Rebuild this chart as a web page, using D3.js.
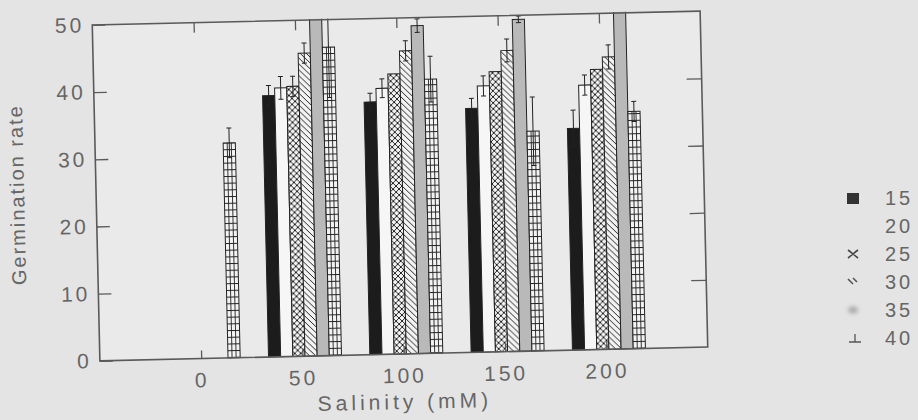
<!DOCTYPE html>
<html>
<head>
<meta charset="utf-8">
<script src="https://cdn.jsdelivr.net/npm/d3@7"></script>
<style>
  html, body { margin: 0; padding: 0; background: #e4e4e4; }
  svg { display: block; font-family: "Liberation Sans", Arial, sans-serif; }
</style>
</head>
<body>
<div id="chart"></div>
<script>
// Germination rate by salinity (mM), one bar per temperature
const salinity = ["0", "50", "100", "150", "200"];
const temperatures = ["15", "20", "25", "30", "35", "40"];

const rate15 = [0, 38.9, 37.6, 36.3, 33.0];
const rate20 = [0, 40.0, 39.6, 39.6, 39.4];
const rate25 = [0, 40.2, 41.7, 41.7, 41.7];
const rate30 = [0, 45.1, 45.1, 44.8, 43.5];
const rate35 = [0, 52.0, 48.8, 49.4, 52.0];
const rate40 = [32.0, 45.9, 40.8, 32.7, 35.3];

const err15 = [0, 1.5, 1.3, 1.5, 2.7];
const err20 = [0, 1.7, 1.4, 1.5, 1.5];
const err25 = [0, 1.5, 0, 0, 0];
const err30 = [0, 1.5, 1.5, 1.7, 1.8];
const err35 = [0, 0, 1.0, 0.5, 0];
const err40 = [2.2, 7.5, 3.4, 5.1, 1.5];

const yTicks = [0, 10, 20, 30, 40, 50];
const yDomain = [0, 50];

const rates = [rate15, rate20, rate25, rate30, rate35, rate40];
const errs = [err15, err20, err25, err30, err35, err40];

const bars = [];
temperatures.forEach((t, i) => {
  salinity.forEach((s, j) => {
    bars.push({ temp: t, sal: s, value: rates[i][j], err: errs[i][j] });
  });
});

const W = 918, H = 420;
const margin = { left: 96, top: 18 };
const width = 608, height = 336;
const textColor = "#666";
const axisColor = "#5a5a5a";
const ink = "#222";

const svg = d3.select("#chart").append("svg")
  .attr("width", W).attr("height", H);

svg.append("rect").attr("width", W).attr("height", H).attr("fill", "#e4e4e4");

const defs = svg.append("defs");

// hatch fills
const pCross = defs.append("pattern").attr("id", "hatch-cross")
  .attr("patternUnits", "userSpaceOnUse").attr("width", 6).attr("height", 6);
pCross.append("rect").attr("width", 6).attr("height", 6).attr("fill", "#f3f3f3");
pCross.append("path").attr("d", "M0,0L6,6M6,0L0,6")
  .attr("stroke", ink).attr("stroke-width", 1).attr("fill", "none");

const pDiag = defs.append("pattern").attr("id", "hatch-diag")
  .attr("patternUnits", "userSpaceOnUse").attr("width", 6).attr("height", 6);
pDiag.append("rect").attr("width", 6).attr("height", 6).attr("fill", "#f3f3f3");
pDiag.append("path").attr("d", "M0,0L6,6M-1,5L1,7M5,-1L7,1")
  .attr("stroke", ink).attr("stroke-width", 1).attr("fill", "none");

const pRows = defs.append("pattern").attr("id", "hatch-rows")
  .attr("patternUnits", "userSpaceOnUse").attr("width", 10).attr("height", 6.7);
pRows.append("rect").attr("width", 10).attr("height", 6.7).attr("fill", "#f3f3f3");
pRows.append("path").attr("d", "M0,0.5H10")
  .attr("stroke", ink).attr("stroke-width", 1).attr("fill", "none");

defs.append("clipPath").attr("id", "plot-clip")
  .append("rect").attr("x", -1).attr("y", -1).attr("width", width + 2).attr("height", height + 2);

const soft = defs.append("filter").attr("id", "soft")
  .attr("x", "-100%").attr("y", "-100%").attr("width", "300%").attr("height", "300%");
soft.append("feGaussianBlur").attr("stdDeviation", 2);

const fills = {
  "15": "#1c1c1c",
  "20": "#f6f6f6",
  "25": "url(#hatch-cross)",
  "30": "url(#hatch-diag)",
  "35": "#b9b9b9",
  "40": "url(#hatch-rows)"
};

// whole figure sits slightly tilted
const fig = svg.append("g")
  .attr("transform", `rotate(-1.3, ${margin.left + width / 2}, ${margin.top + height / 2})`);

const g = fig.append("g").attr("transform", `translate(${margin.left},${margin.top})`);

g.append("rect").attr("width", width).attr("height", height).attr("fill", "#eaeaea");

const x = d3.scalePoint().domain(salinity).range([0, width]).padding(1);
const xInner = d3.scaleBand().domain(temperatures).range([-34, 39]);
const y = d3.scaleLinear().domain(yDomain).range([height, 0]);

const plot = g.append("g").attr("clip-path", "url(#plot-clip)");

const shown = bars.filter(d => d.value > 0);

plot.selectAll("rect.bar").data(shown).join("rect")
  .attr("class", "bar")
  .attr("x", d => x(d.sal) + xInner(d.temp))
  .attr("y", d => y(d.value))
  .attr("width", xInner.bandwidth())
  .attr("height", d => y(0) - y(d.value))
  .attr("fill", d => fills[d.temp])
  .attr("stroke", ink).attr("stroke-width", 1);

// column dividers of the grid-filled bars
const gridBars = shown.filter(d => d.temp === "40");
[1 / 3, 2 / 3].forEach(f => {
  plot.selectAll(null).data(gridBars).join("line")
    .attr("x1", d => x(d.sal) + xInner(d.temp) + xInner.bandwidth() * f)
    .attr("x2", d => x(d.sal) + xInner(d.temp) + xInner.bandwidth() * f)
    .attr("y1", d => y(d.value)).attr("y2", y(0))
    .attr("stroke", ink).attr("stroke-width", 0.9);
});

// error bars
const withErr = shown.filter(d => d.err > 0);
const cap = 2.5;
const eb = plot.selectAll("g.err").data(withErr).join("g").attr("class", "err")
  .attr("stroke", ink).attr("stroke-width", 1);
eb.append("line")
  .attr("x1", d => x(d.sal) + xInner(d.temp) + xInner.bandwidth() / 2)
  .attr("x2", d => x(d.sal) + xInner(d.temp) + xInner.bandwidth() / 2)
  .attr("y1", d => y(d.value - d.err)).attr("y2", d => y(d.value + d.err));
eb.append("line")
  .attr("x1", d => x(d.sal) + xInner(d.temp) + xInner.bandwidth() / 2 - cap)
  .attr("x2", d => x(d.sal) + xInner(d.temp) + xInner.bandwidth() / 2 + cap)
  .attr("y1", d => y(d.value + d.err)).attr("y2", d => y(d.value + d.err));
eb.append("line")
  .attr("x1", d => x(d.sal) + xInner(d.temp) + xInner.bandwidth() / 2 - cap)
  .attr("x2", d => x(d.sal) + xInner(d.temp) + xInner.bandwidth() / 2 + cap)
  .attr("y1", d => y(d.value - d.err)).attr("y2", d => y(d.value - d.err));

// axes with inward ticks
const styleAxis = sel => {
  sel.select(".domain").remove();
  sel.selectAll(".tick line").attr("stroke", axisColor).attr("stroke-width", 1.3);
  sel.selectAll(".tick text")
    .attr("fill", textColor)
    .style("font-size", "21px")
    .style("letter-spacing", "3px");
};

g.append("g")
  .call(d3.axisLeft(y).tickValues(yTicks).tickSize(-13).tickPadding(8).tickFormat(d3.format("d")))
  .call(styleAxis);

g.append("g").attr("transform", `translate(${width},0)`)
  .call(d3.axisRight(y).tickValues(yTicks.slice(1, -1)).tickSize(-15).tickFormat(""))
  .call(styleAxis);

g.append("g")
  .call(d3.axisTop(x).tickSize(-10).tickFormat(""))
  .call(styleAxis);

g.append("g").attr("transform", `translate(0,${height})`)
  .call(d3.axisBottom(x).tickSize(-8).tickPadding(14))
  .call(styleAxis);

g.append("rect").attr("width", width).attr("height", height)
  .attr("fill", "none").attr("stroke", axisColor).attr("stroke-width", 1.6);

g.append("text")
  .attr("x", width / 2).attr("y", height + 55)
  .attr("text-anchor", "middle")
  .attr("fill", textColor)
  .style("font-size", "21px").style("letter-spacing", "4px")
  .text("Salinity (mM)");

g.append("text")
  .attr("transform", `translate(${-margin.left + 24},${height / 2}) rotate(-90)`)
  .attr("text-anchor", "middle")
  .attr("fill", textColor)
  .style("font-size", "20px").style("letter-spacing", "2px")
  .text("Germination rate");

// legend
const legend = svg.append("g").attr("transform", "translate(853,198)");
const rowH = 28;
const item = legend.selectAll("g").data(temperatures).join("g")
  .attr("transform", (d, i) => `translate(0,${i * rowH})`);

item.append("text")
  .attr("x", 32).attr("y", 0).attr("dy", "0.36em")
  .attr("fill", textColor)
  .style("font-size", "20px").style("letter-spacing", "3px")
  .text(d => d);

const sw = item;
sw.filter(d => d === "15").append("rect")
  .attr("x", -6).attr("y", -5).attr("width", 12).attr("height", 11).attr("fill", "#333");
sw.filter(d => d === "25").append("path")
  .attr("d", "M-5,-4C-2,-2 2,2 5,4M5,-4C2,-2 -2,2 -5,4")
  .attr("stroke", "#444").attr("stroke-width", 1.6).attr("fill", "none");
sw.filter(d => d === "30").append("path")
  .attr("d", "M-5,-3L0,2M0,-4L4,0")
  .attr("stroke", "#555").attr("stroke-width", 1.6).attr("fill", "none");
sw.filter(d => d === "35").append("ellipse")
  .attr("rx", 5).attr("ry", 3.5).attr("fill", "#a8a8a8").attr("filter", "url(#soft)");
sw.filter(d => d === "40").append("path")
  .attr("d", "M2,-4V4M-4,4H8")
  .attr("stroke", "#555").attr("stroke-width", 1.3).attr("fill", "none");
</script>
</body>
</html>
